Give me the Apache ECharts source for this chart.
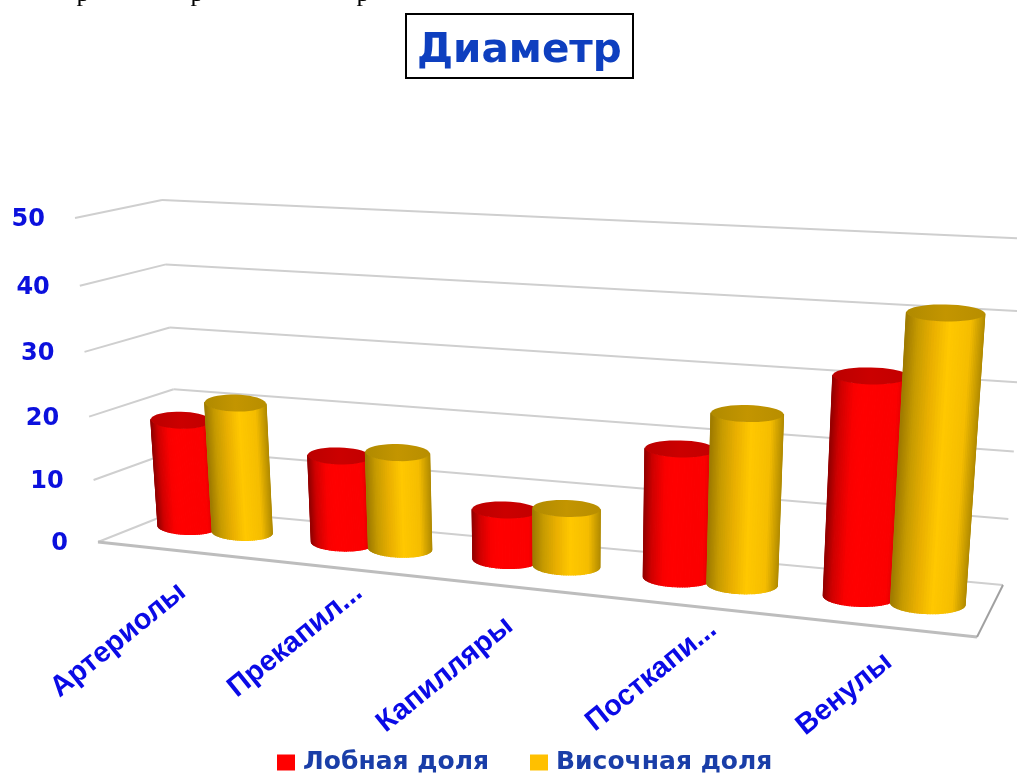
<!DOCTYPE html>
<html><head><meta charset="utf-8">
<style>html,body{margin:0;padding:0;background:#fff;overflow:hidden}#c{width:1017px;height:773px}</style>
<script src="https://cdn.jsdelivr.net/npm/echarts@6/dist/echarts.min.js"></script>
</head><body><div id="c"></div>
<script>
const categories = ['Артериолы','Прекапил...','Капилляры','Посткапи...','Венулы'];
const frontal = [17.45,13.95,7.85,19.6,32.3];
const temporal = [20.95,15.3,9,25.6,41.7];
const yTicks = [0,10,20,30,40,50];
const seriesNames = ['Лобная доля','Височная доля'];

// projection layout (perspective corners of the three chart planes)
const backQ  = [[181,509],[1003,585],[162,200],[1031,239]];
const frontQ = [[98,542],[977,637],[75,218],[1007,272]];
const midQ   = [[139.5,521.5],[989.5,610],[117.5,209],[1015,255]];
const labelNudge = [[6,38],[20,21],[0,36],[24,20],[10,32]];

function homography(q){
  const [p00,p10,p01,p11]=q;
  const dx1=p10[0]-p11[0],dx2=p01[0]-p11[0],sx=p00[0]-p10[0]+p11[0]-p01[0];
  const dy1=p10[1]-p11[1],dy2=p01[1]-p11[1],sy=p00[1]-p10[1]+p11[1]-p01[1];
  const den=dx1*dy2-dx2*dy1;
  const g=(sx*dy2-dx2*sy)/den,h=(dx1*sy-sx*dy1)/den;
  const a=p10[0]-p00[0]+g*p10[0],b=p01[0]-p00[0]+h*p01[0],c=p00[0];
  const d=p10[1]-p00[1]+g*p10[1],e=p01[1]-p00[1]+h*p01[1],f=p00[1];
  return (u,v)=>{const w=g*u+h*v+1;return [(a*u+b*v+c)/w,(d*u+e*v+f)/w];};
}
const back=homography(backQ),front=homography(frontQ),mid=homography(midQ);

function uv(params,api,cat,val,offset){
  const cs=params.coordSys;
  const p=api.coord([cat,val]);
  const band=api.size([1,0])[0];
  return [(p[0]+(offset||0)*band-cs.x)/cs.width,1-(p[1]-cs.y)/cs.height];
}
function ellipsePts(c,ax,ry,a0,a1,n){
  const L=Math.hypot(ax[0],ax[1]),nx=-ax[1]/L,ny=ax[0]/L,pts=[];
  for(let i=0;i<=n;i++){const t=a0+(a1-a0)*i/n,co=Math.cos(t),si=Math.sin(t);
    pts.push([c[0]+ax[0]*co+nx*ry*si,c[1]+ax[1]*co+ny*ry*si]);}
  return pts;
}
function shade(stops,f){
  for(let i=1;i<stops.length;i++){
    if(f<=stops[i][0]){
      const a=stops[i-1],b=stops[i],t=(f-a[0])/(b[0]-a[0]);
      const c=[0,1,2].map(k=>Math.round(a[1][k]+(b[1][k]-a[1][k])*t));
      return 'rgb('+c.join(',')+')';
    }
  }
  return 'rgb('+stops[stops.length-1][1].join(',')+')';
}
function cylinder(offset,stops,topStops){
  return function(params,api){
    const cat=api.value(0),val=api.value(1);
    const halfW=0.195,tilt=0.3,N=44;
    const b=uv(params,api,cat,0,offset),t=uv(params,api,cat,val,offset);
    const bandU=api.size([1,0])[0]/params.coordSys.width;
    const B=mid(b[0],0),T=mid(t[0],t[1]);
    const bL=mid(b[0]-halfW*bandU,0),bR=mid(b[0]+halfW*bandU,0);
    const tL=mid(t[0]-halfW*bandU,t[1]),tR=mid(t[0]+halfW*bandU,t[1]);
    const axB=[(bR[0]-bL[0])/2,tilt*(bR[1]-bL[1])/2],axT=[(tR[0]-tL[0])/2,tilt*(tR[1]-tL[1])/2];
    const ryB=Math.abs(axB[0])*0.27,ryT=8.5;
    const lower=ellipsePts(B,axB,ryB,0,Math.PI,N);
    const upper=ellipsePts(T,axT,ryT,0,Math.PI,N);
    const kids=[];
    // slices run right to left; each later slice paints over the previous seam
    for(let i=0;i<N;i++){
      const mt=Math.PI*(i+.5)/N,f=(1-Math.cos(mt))/2;
      const col=shade(stops,1-f);
      kids.push({type:'polygon',shape:{points:[upper[i],lower[i],lower[i+1],upper[i+1]]},
        style:{fill:col,stroke:col,lineWidth:1.2,lineJoin:'round',lineCap:'round'}});
    }
    const cap=ellipsePts(T,axT,ryT,0,Math.PI*2,40);
    kids.push({type:'polygon',shape:{points:cap},style:{fill:{type:'linear',x:0,y:0,x2:1,y2:0,colorStops:topStops}}});
    return {type:'group',children:kids};
  };
}
const redStops=[[0,[150,0,0]],[.1,[205,0,0]],[.28,[250,0,0]],[.4,[255,0,0]],[.85,[251,0,0]],[1,[198,0,0]]];
const yelStops=[[0,[160,124,0]],[.15,[199,155,0]],[.35,[234,176,0]],[.55,[255,200,0]],[.82,[245,189,0]],[1,[176,138,0]]];
const redCap=[{offset:0,color:'#bb0000'},{offset:.5,color:'#cb0000'},{offset:1,color:'#c20000'}];
const yelCap=[{offset:0,color:'#b08a00'},{offset:.5,color:'#c39500'},{offset:1,color:'#b88e00'}];

function lineEl(a,b,color,w){return {type:'line',shape:{x1:a[0],y1:a[1],x2:b[0],y2:b[1]},style:{stroke:color,lineWidth:w}};}

function gridItem(params,api){
  const val=api.value(0);
  const v=uv(params,api,0,val,0)[1];
  const kids=[
    lineEl(front(0,v),back(0,v),'#cfcfcf',2),
    lineEl(back(0,v),back(1,v),'#cfcfcf',2)
  ];
  if(val===0){
    kids.push(lineEl(front(0,0),front(1,0),'#bdbdbd',3));
    kids.push(lineEl(front(1,0),back(1,0),'#a0a0a0',2));
  }
  return {type:'group',children:kids};
}
function yLabelItem(params,api){
  const val=api.value(0);
  const v=uv(params,api,0,val,0)[1];
  const p=front(0,v);
  return {type:'text',x:p[0]-30,y:p[1]+2,style:{text:String(val),fill:'#0b10dd',font:'bold 24px "DejaVu Sans"',align:'right',verticalAlign:'middle'}};
}
function xLabelItem(params,api){
  const i=api.value(0);
  const u=uv(params,api,i,0,0)[0];
  const p=front(u,0),n=labelNudge[i];
  return {type:'text',x:p[0]+n[0],y:p[1]+n[1],rotation:39*Math.PI/180,
    originX:0,originY:0,
    style:{text:categories[i],fill:'#0a0ae6',font:'bold 29px "Liberation Sans"',align:'right',verticalAlign:'middle'}};
}

const option={
  animation:false,
  backgroundColor:'#fff',
  title:{text:'Диаметр',left:406,top:14,padding:[17,11,6,11],borderColor:'#000',borderWidth:2,backgroundColor:'#fff',
    textStyle:{color:'#0e3fbf',fontFamily:'DejaVu Sans',fontWeight:'bold',fontSize:40.5}},
  graphic:[
    {type:'text',x:83,y:-19,silent:true,style:{text:'р',fill:'#000',font:'26px "Liberation Serif"',align:'center'}},
    {type:'text',x:197,y:-19,silent:true,style:{text:'р',fill:'#000',font:'26px "Liberation Serif"',align:'center'}},
    {type:'text',x:363,y:-19,silent:true,style:{text:'р',fill:'#000',font:'26px "Liberation Serif"',align:'center'}}
  ],
  legend:{data:seriesNames,left:272,top:745,itemWidth:18,itemHeight:16,itemGap:41,icon:'rect',
    textStyle:{color:'#1a3ea8',fontFamily:'DejaVu Sans',fontWeight:'bold',fontSize:25,padding:[0,0,0,3]}},
  grid:{left:0,right:0,top:0,bottom:0},
  xAxis:{type:'category',data:categories,show:false},
  yAxis:{type:'value',min:0,max:50,interval:10,show:false},
  series:[
    {type:'custom',name:'grid',silent:true,z:1,data:yTicks.map(t=>[t]),renderItem:gridItem,clip:false},
    {type:'custom',name:'ylabels',silent:true,z:1,data:yTicks.map(t=>[t]),renderItem:yLabelItem,clip:false},
    {type:'custom',name:'xlabels',silent:true,z:1,data:categories.map((c,i)=>[i]),renderItem:xLabelItem,clip:false},
    {type:'custom',name:seriesNames[0],z:2,itemStyle:{color:'#ff0000'},data:frontal.map((v,i)=>[i,v]),encode:{x:0,y:1},renderItem:cylinder(-0.18,redStops,redCap),clip:false},
    {type:'custom',name:seriesNames[1],z:3,itemStyle:{color:'#ffc000'},data:temporal.map((v,i)=>[i,v]),encode:{x:0,y:1},renderItem:cylinder(0.18,yelStops,yelCap),clip:false}
  ]
};
const chart=echarts.init(document.getElementById('c'),null,{renderer:'canvas'});
chart.setOption(option);
</script></body></html>
